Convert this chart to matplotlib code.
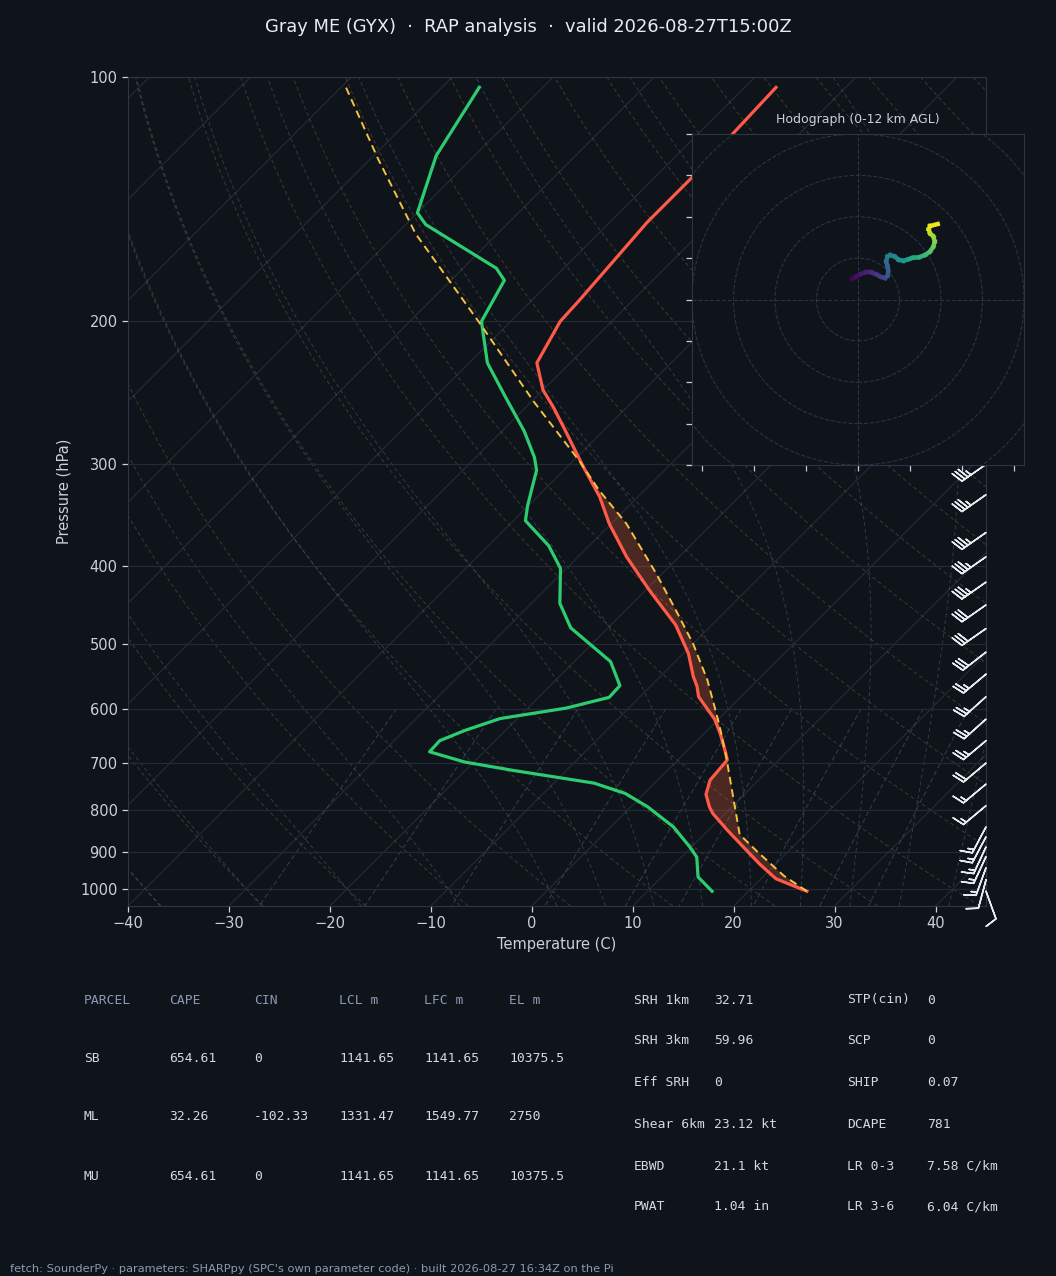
import numpy as np
import matplotlib
matplotlib.use('Agg')
import matplotlib.pyplot as plt
from matplotlib.transforms import Affine2D
from matplotlib.collections import LineCollection
from matplotlib.ticker import FixedLocator, NullLocator, FixedFormatter

# ---------------- data ----------------
TITLE = 'Gray ME (GYX)  \u00b7  RAP analysis  \u00b7  valid 2026-08-27T15:00Z'
FOOTER = ("fetch: SounderPy \u00b7 parameters: SHARPpy (SPC's own parameter code) "
          "\u00b7 built 2026-08-27 16:34Z on the Pi")

p_temp = [1007, 972, 932, 888, 846, 808, 793, 765, 735, 694, 681, 644, 618, 580,
          563, 548, 513, 473, 429, 390, 355, 329, 301, 273, 255, 243, 225, 200, 188,
          151, 133, 117, 103]
temp = [25.8, 21.5, 18.4, 15.1, 11.8, 8.8, 7.8, 6.2, 5.2, 4.9, 4.1, 1.6, -0.4, -4.2,
        -5.4, -6.7, -9.5, -13.6, -19.6, -25.2, -30.2, -33.8, -38.6, -43.7, -47.3,
        -50.0, -53.3, -55.1, -55.3, -56.3, -56.3, -56.6, -56.9]

p_dew = [1007, 967, 914, 888, 839, 792, 763, 741, 715, 698, 678, 657, 638, 617,
         599, 581, 562, 525, 477, 445, 403, 378, 352, 337, 305, 294, 273, 248,
         225, 200, 178, 172, 152, 147, 125, 103]
dew = [16.4, 13.6, 11.5, 9.8, 6.2, 1.6, -1.9, -6.0, -15.2, -20.9, -25.4, -25.5,
       -24.0, -21.7, -16.2, -13.0, -13.1, -16.4, -23.7, -27.2, -30.6, -34.0, -38.8,
       -40.1, -42.7, -44.2, -47.8, -53.0, -58.2, -62.9, -64.7, -66.7, -78.0, -80.0,
       -83.8, -86.3]

p_parcel = [1007, 964, 898, 857, 783, 688, 632, 608, 553, 499, 454, 409, 355, 323,
            297, 251, 201, 156, 126, 103]
parcel = [25.8, 22.0, 16.8, 13.5, 9.8, 4.5, 0.9, -0.8, -5.0, -10.0, -15.0, -20.6,
          -28.5, -34.5, -39.4, -49.8, -62.9, -78.1, -89.3, -99.5]

# wind barbs (kt)
barb_p = [1007, 975, 942, 913, 888, 863, 839, 790, 743, 700, 657, 618, 580, 544,
          511, 478, 447, 419, 390, 364, 327, 300]
barb_u = [-3.4, 2.6, 5.1, 6.3, 6.3, 7.0, 7.0, 11.5, 11.5, 15.3, 19.2, 18.6, 18.6,
          19.2, 23.6, 24.6, 24.6, 28.7, 28.7, 28.7, 28.7, 28.7]
barb_v = [9.4, 9.7, 14.1, 13.6, 13.6, 13.2, 13.2, 9.6, 9.6, 12.9, 16.1, 16.7, 16.7,
          16.1, 18.5, 17.2, 17.2, 20.1, 20.1, 20.1, 20.1, 20.1]

# hodograph (kt) coloured by height (km AGL)
hodo_u = [-2.72, -0.8, 1.6, 4.0, 6.4, 8.8, 11.2, 13.12, 14.24, 14.56, 14.24, 13.6,
          14.24, 15.52, 17.6, 19.68, 21.92, 24.48, 26.4, 29.6, 32.48, 34.72, 36.32,
          36.96, 36.32, 34.72, 34.08, 34.72, 38.4]
hodo_v = [9.92, 11.2, 12.48, 13.12, 13.12, 12.16, 10.88, 10.4, 11.52, 13.6, 16.0,
          18.4, 20.8, 21.44, 20.8, 19.2, 18.72, 19.52, 20.16, 20.48, 21.6, 23.2, 25.6,
          28.0, 30.4, 32.0, 33.92, 35.52, 36.48]
hodo_z = [0.0, 0.3, 0.6, 0.9, 1.3, 1.7, 2.1, 2.5, 2.9, 3.3, 3.7, 4.1, 4.6, 5.0,
          5.4, 5.8, 6.2, 6.6, 7.0, 7.5, 8.0, 8.5, 9.0, 9.5, 10.0, 10.5, 11.0, 11.5, 12.0]

p_ticks = [100, 200, 300, 400, 500, 600, 700, 800, 900, 1000]
t_ticks = [-40, -30, -20, -10, 0, 10, 20, 30, 40]

parcel_header = ['PARCEL', 'CAPE', 'CIN', 'LCL m', 'LFC m', 'EL m']
parcel_rows = [['SB', '654.61', '0', '1141.65', '1141.65', '10375.5'],
               ['ML', '32.26', '-102.33', '1331.47', '1549.77', '2750'],
               ['MU', '654.61', '0', '1141.65', '1141.65', '10375.5']]
kin_rows = [['SRH 1km', '32.71', 'STP(cin)', '0'],
            ['SRH 3km', '59.96', 'SCP', '0'],
            ['Eff SRH', '0', 'SHIP', '0.07'],
            ['Shear 6km', '23.12 kt', 'DCAPE', '781'],
            ['EBWD', '21.1 kt', 'LR 0-3', '7.58 C/km'],
            ['PWAT', '1.04 in', 'LR 3-6', '6.04 C/km']]

# ---------------- style ----------------
BG = '#0f131a'
FG = '#c9d1d9'
SPINE = '#2d3643'
GRID = '#222a35'
C_T = '#ff5a48'
C_TD = '#2ecc71'
C_PARCEL = '#f5c242'

W, H = 1056, 1276
fig = plt.figure(figsize=(W / 100, H / 100), dpi=100, facecolor=BG)

ax = fig.add_axes([128 / W, 1 - 906 / H, 858 / W, 829 / H], facecolor=BG)
ax.set_autoscale_on(False)
ax.set_yscale('log')
ax.set_ylim(1050, 100)
ax.set_xlim(-40, 45)

pos = ax.get_position()
skew_angle = np.degrees(np.arctan((pos.height * H) / (pos.width * W)))
skew = ax.transScale + ax.transLimits + Affine2D().skew_deg(skew_angle, 0) + ax.transAxes

# --- thermodynamic background ---
pg = np.arange(1050, 99, -5).astype(float)

# isotherms
for t0 in range(-130, 50, 10):
    ax.plot([t0, t0], [1050, 100], color='#252d39', lw=0.8, transform=skew, zorder=1)

# dry adiabats
for t0 in np.arange(-40, 246, 10):
    tt = (t0 + 273.15) * (pg / 1000.0) ** 0.2857 - 273.15
    ax.plot(tt, pg, color='#7a5c3e', lw=0.7, ls=(0, (4, 3)), alpha=0.5,
            transform=skew, zorder=1)

# moist adiabats
Rd, Cp, Lv, eps = 287.04749, 1005.7, 2.501e6, 0.62195691


def dtdp(p, T):
    es = 6.112 * np.exp(17.67 * (T - 273.15) / (T - 29.65))
    rs = eps * es / (p - es)
    num = (Rd * T + Lv * rs) / p
    den = Cp + (Lv * Lv * rs * eps) / (Rd * T * T)
    return num / den


moist_t0 = np.concatenate((np.arange(-40, 0, 10), np.arange(0, 46, 5))).astype(float)
TM = np.empty((len(pg), len(moist_t0)))
i0 = int(np.argmin(np.abs(pg - 1000)))
TM[i0] = moist_t0 + 273.15
for d in (1, -1):
    i = i0
    while 0 <= i + d < len(pg):
        p1, p2 = pg[i], pg[i + d]
        h = p2 - p1
        t = TM[i]
        k1 = dtdp(p1, t)
        k2 = dtdp(p1 + h / 2, t + h / 2 * k1)
        k3 = dtdp(p1 + h / 2, t + h / 2 * k2)
        k4 = dtdp(p2, t + h * k3)
        TM[i + d] = t + h / 6 * (k1 + 2 * k2 + 2 * k3 + k4)
        i += d
for j in range(len(moist_t0)):
    ax.plot(TM[:, j] - 273.15, pg, color='#3b6470', lw=0.7, ls=(0, (4, 3)),
            alpha=0.55, transform=skew, zorder=1)

# mixing ratio lines
pm = np.linspace(600, 1050, 50)
for w in [0.0004, 0.001, 0.002, 0.004, 0.007, 0.01, 0.016, 0.024, 0.032]:
    e = pm * w / (eps + w)
    lg = np.log(e / 6.112)
    td = 243.5 * lg / (17.67 - lg)
    ax.plot(td, pm, color='#46607a', lw=0.7, ls=(0, (5, 3)), alpha=0.6,
            transform=skew, zorder=1)

# horizontal grid
ax.yaxis.set_major_locator(FixedLocator(p_ticks))
ax.yaxis.set_major_formatter(FixedFormatter([str(v) for v in p_ticks]))
ax.yaxis.set_minor_locator(NullLocator())
ax.yaxis.grid(True, color=GRID, lw=0.9)
ax.set_xticks(t_ticks)
ax.set_xticklabels([f'{v}'.replace('-', '\u2212') for v in t_ticks])

# --- CAPE shading ---
lp = np.linspace(np.log(1007), np.log(297), 400)
pf = np.exp(lp)
t_i = np.interp(lp, np.log(p_temp[::-1]), temp[::-1])
par_i = np.interp(lp, np.log(p_parcel[::-1]), parcel[::-1])
ax.fill_betweenx(pf, t_i, par_i, where=par_i >= t_i, interpolate=True,
                 facecolor='#ff6a3d', alpha=0.25, lw=0, transform=skew, zorder=2)

# --- profiles ---
ax.plot(temp, p_temp, color=C_T, lw=2.3, transform=skew, zorder=4,
        solid_joinstyle='round')
ax.plot(dew, p_dew, color=C_TD, lw=2.3, transform=skew, zorder=4,
        solid_joinstyle='round')
ax.plot(parcel, p_parcel, color=C_PARCEL, lw=1.4, ls=(0, (4, 2.5)),
        transform=skew, zorder=5)

# --- wind barbs ---
ax.barbs(np.ones(len(barb_p)), barb_p, barb_u, barb_v,
         transform=ax.get_yaxis_transform(), color='#e6e9ee', length=6.5,
         linewidth=1.1, clip_on=False, zorder=6)

# axes styling
for s in ax.spines.values():
    s.set_color(SPINE)
ax.tick_params(colors=FG, labelsize=10.5, length=4, width=0.9)
ax.tick_params(axis='both', which='both', labelcolor=FG)
ax.set_ylabel('Pressure (hPa)', color=FG, fontsize=10.5, labelpad=6)
ax.set_xlabel('Temperature (C)', color=FG, fontsize=10.5, labelpad=4)

# ---------------- hodograph ----------------
axh = fig.add_axes([692 / W, 1 - 465 / H, 332 / W, 331 / H], facecolor=BG)
axh.set_xlim(-80, 80)
axh.set_ylim(-80, 80)
for r in range(20, 121, 20):
    axh.add_patch(plt.Circle((0, 0), r, fill=False, ec='#2a3442', lw=0.8, ls='--'))
axh.axhline(0, color='#2a3442', lw=0.8, ls='--')
axh.axvline(0, color='#2a3442', lw=0.8, ls='--')
pts = np.column_stack([hodo_u, hodo_v])
segs = np.stack([pts[:-1], pts[1:]], axis=1)
zmid = 0.5 * (np.array(hodo_z[:-1]) + np.array(hodo_z[1:]))
lc = LineCollection(segs, cmap='viridis', norm=plt.Normalize(0, 12), lw=3.2,
                    capstyle='projecting')
lc.set_array(zmid)
axh.add_collection(lc)
axh.set_xticks([-75, -50, -25, 0, 25, 50, 75])
axh.set_yticks(list(range(-80, 81, 20)))
axh.tick_params(labelleft=False, labelbottom=False, colors='#c8ced6', length=4,
                width=0.9)
for s in axh.spines.values():
    s.set_color(SPINE)
fig.text(858 / W, 1 - 120 / H, 'Hodograph (0-12 km AGL)', color=FG, fontsize=9,
         ha='center', va='center')

# ---------------- texts ----------------
fig.text(0.5, 1 - 27 / H, TITLE, color='#e6edf3', fontsize=12.9, ha='center',
         va='center')

MONO = 'DejaVu Sans Mono'
HDR = '#8b9bb4'
VAL = '#d5dae0'
col_x = [84, 169, 254, 339, 424, 509]
row_y = [1000, 1058, 1117, 1176]
for cx, txt in zip(col_x, parcel_header):
    fig.text(cx / W, 1 - row_y[0] / H, txt, family=MONO, fontsize=9.4, color=HDR,
             va='center')
for ry, row in zip(row_y[1:], parcel_rows):
    for cx, txt in zip(col_x, row):
        fig.text(cx / W, 1 - ry / H, txt, family=MONO, fontsize=9.4, color=VAL,
                 va='center')

kx = [634, 714, 847, 927]
ky = [1000, 1041, 1083, 1124, 1166, 1207]
for ry, row in zip(ky, kin_rows):
    for cx, txt in zip(kx, row):
        fig.text(cx / W, 1 - ry / H, txt, family=MONO, fontsize=9.4, color=VAL,
                 va='center')

fig.text(10 / W, 1 - 1269 / H, FOOTER, color=HDR, fontsize=8.2, va='center')

fig.savefig('out.png', dpi=100, facecolor=BG)
